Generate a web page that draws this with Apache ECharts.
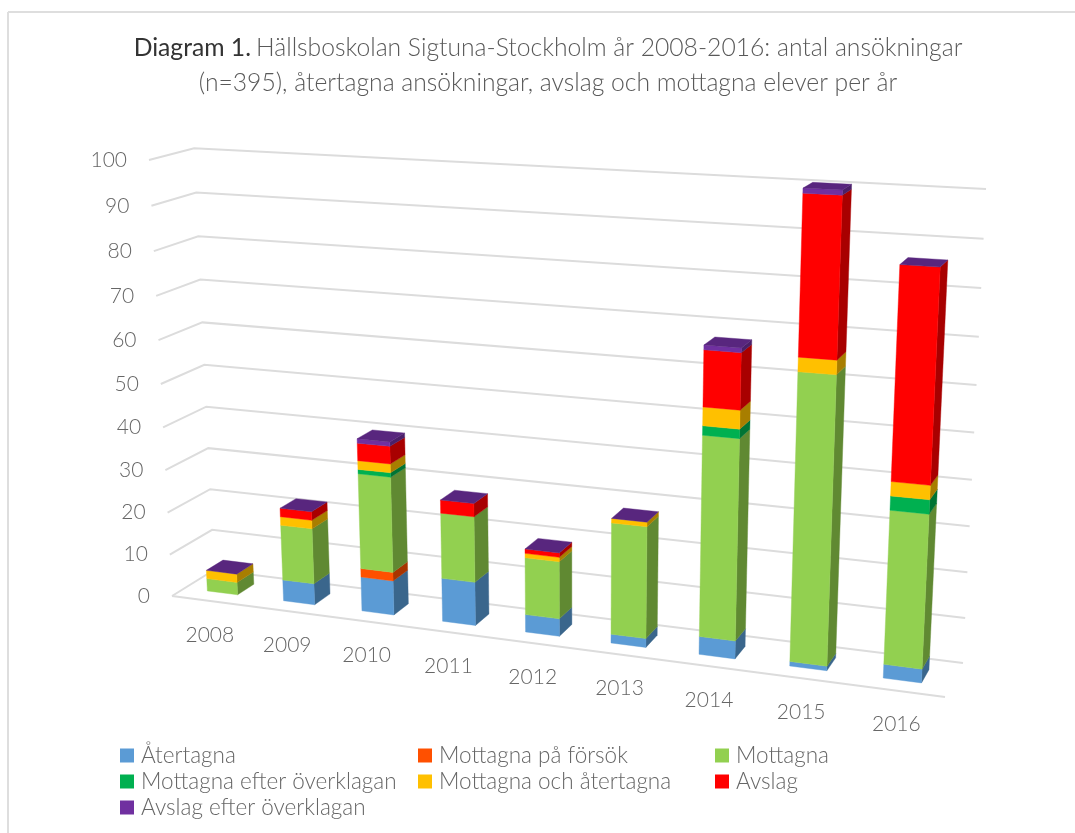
<!DOCTYPE html>
<html><head><meta charset="utf-8">
<style>html,body{margin:0;padding:0;background:#fff}#c{width:1075px;height:833px}</style>
<script src="https://cdn.jsdelivr.net/npm/echarts@6/dist/echarts.min.js"></script>
</head><body><div id="c"></div>
<script>
const years = ['2008','2009','2010','2011','2012','2013','2014','2015','2016'];
const yTicks = [0,10,20,30,40,50,60,70,80,90,100];
const seriesNames = ['Återtagna','Mottagna på försök','Mottagna','Mottagna efter överklagan','Mottagna och återtagna','Avslag','Avslag efter överklagan'];
const aterTagna   = [0,5,8,10,4,2,4,1,3];
const paForsok    = [0,0,2,0,0,0,0,0,0];
const mottagna    = [3,13,22,15,13,25,44,62,33];
const efterOverkl = [0,0,1,0,0,0,2,0,3];
const ochAtertagna= [2,2,2,0,1,1,4,3,3];
const avslag      = [0,2,4,3,1,0,12,33,44];
const avslagOverkl= [0,0,1,0,0,0,1,1,0];
const allValues = [aterTagna,paForsok,mottagna,efterOverkl,ochAtertagna,avslag,avslagOverkl];
const frontColors = ['#5b9bd5','#ff5000','#92d050','#00b050','#ffc000','#ff0000','#7030a0'];
const sideColors  = ['#3a668c','#a83400','#608932','#007434','#a87e00','#a80000','#4a2069'];
const topColor = '#58267e';
const gridColor = '#dcdcdc';
const textColor = '#666666';
const FONT = 'Lato, "Open Sans", sans-serif';

// Perspective box: the library's grid rect is mapped through a 3D projective transform
const O=[172,596], PT=[945,697], PD=[214,570], BR=[963,663], PV=[149,160], BR_TOP=[986,189];
const G = -0.125, H = 0.0354, VP = -0.0536, BAR_FRAC = 0.4, D0 = 0.3, D1 = 0.7;
function proj(t,d,v){
  const w=1+G*t+H*d+VP*v;
  return [0,1].map(k=>(O[k]+t*((1+G)*PT[k]-O[k])+d*((1+H)*PD[k]-O[k])+v*((1+VP)*PV[k]-O[k]))/w);
}
function backRight(v){ // measured end of the back-wall gridlines
  const k=v*(1+VP)/(1+VP*v);
  return [BR[0]+(BR_TOP[0]-BR[0])*k, BR[1]+(BR_TOP[1]-BR[1])*k];
}
const fracs=(cs,pt)=>[(pt[0]-cs.x)/cs.width,(cs.y+cs.height-pt[1])/cs.height];

function renderSegment(idx){
  return function(params,api){
    const cs=params.coordSys;
    const a=api.coord([api.value(0),api.value(1)]), b=api.coord([api.value(0),api.value(2)]);
    const [tc,v0]=fracs(cs,a), v1=fracs(cs,b)[1];
    const hw=api.size([1,0])[0]*BAR_FRAC/2/cs.width;
    const t0=tc-hw,t1=tc+hw, kids=[];
    const poly=(pts,fill)=>kids.push({type:'polygon',shape:{points:pts},style:{fill,stroke:fill,lineWidth:0.4}});
    if(v1>v0){
      poly([proj(t1,D0,v0),proj(t1,D1,v0),proj(t1,D1,v1),proj(t1,D0,v1)],sideColors[idx]);
      poly([proj(t0,D0,v0),proj(t1,D0,v0),proj(t1,D0,v1),proj(t0,D0,v1)],frontColors[idx]);
    }
    if(idx===allValues.length-1){
      poly([proj(t0,D0,v1),proj(t1,D0,v1),proj(t1,D1,v1),proj(t0,D1,v1)],topColor);
    }
    return {type:'group',children:kids};
  };
}
const cum=years.map(()=>0);
const barSeries=seriesNames.map((name,idx)=>{
  const data=years.map((y,i)=>{const s=cum[i];cum[i]+=allValues[idx][i];return [i,s,cum[i]];});
  return {type:'custom',name,coordinateSystem:'cartesian2d',clip:false,silent:true,
    itemStyle:{color:frontColors[idx]},encode:{x:0,y:[1,2]},data,renderItem:renderSegment(idx),z:3};
});
const gridSeries={type:'custom',coordinateSystem:'cartesian2d',clip:false,silent:true,z:1,
  data:yTicks.map(v=>[0,v]),encode:{x:0,y:1},
  renderItem(params,api){
    const cs=params.coordSys, val=api.value(1), v=fracs(cs,api.coord([0,val]))[1];
    const pts=[proj(0,0,v),proj(0,1,v),backRight(v)];
    const kids=[{type:'polyline',shape:{points:pts},style:{fill:'none',stroke:gridColor,lineWidth:2}}];
    if(val===0) kids.push({type:'line',shape:{x1:pts[0][0],y1:pts[0][1],x2:PT[0],y2:PT[1]},style:{stroke:gridColor,lineWidth:2}});
    const p=pts[0];
    kids.push({type:'text',style:{text:String(val),x:p[0]-22,y:p[1],align:'right',verticalAlign:'middle',fill:textColor,font:'300 21px '+FONT}});
    return {type:'group',children:kids};
  }};
const catLabelSeries={type:'custom',coordinateSystem:'cartesian2d',clip:false,silent:true,z:2,
  data:years.map((y,i)=>[i,0]),encode:{x:0,y:1},
  renderItem(params,api){
    const cs=params.coordSys,t=fracs(cs,api.coord([api.value(0),0]))[0],p=proj(t,0,0);
    return {type:'text',style:{text:years[api.value(0)],x:p[0],y:p[1]+34,align:'center',verticalAlign:'middle',fill:textColor,font:'300 21px '+FONT}};
  }};
const legendBase={orient:'vertical',top:744,icon:'rect',itemWidth:14,itemHeight:14,itemGap:3,selectedMode:false,padding:0,
  textStyle:{fontFamily:FONT,fontWeight:300,fontSize:22.5,lineHeight:22,color:textColor,padding:[0,0,0,2]}};
const chart=echarts.init(document.getElementById('c'),null,{renderer:'canvas'});
chart.setOption({
  animation:false,backgroundColor:'#fff',
  title:{left:543,top:26,textAlign:'center',
    text:'{b|Diagram 1.} {n|Hällsboskolan Sigtuna-Stockholm år 2008-2016: antal ansökningar}\n{n|(n=395), återtagna ansökningar, avslag och mottagna elever per år}',
    textStyle:{rich:{b:{fontFamily:FONT,fontSize:24.7,fontWeight:400,color:'#333333',lineHeight:35},n:{fontFamily:FONT,fontSize:24.7,fontWeight:300,color:'#595959',lineHeight:35}}}},
  grid:{left:172,width:773,top:160,height:436},
  xAxis:{type:'category',data:years,show:false,boundaryGap:true},
  yAxis:{type:'value',min:0,max:100,interval:10,show:false},
  legend:[
    {...legendBase,left:120,data:[seriesNames[0],seriesNames[3],seriesNames[6]]},
    {...legendBase,left:418,data:[seriesNames[1],seriesNames[4]]},
    {...legendBase,left:715,data:[seriesNames[2],seriesNames[5]]}
  ],
  graphic:[
    {type:'line',shape:{x1:8,y1:12,x2:1075,y2:12},style:{stroke:'#dedede',lineWidth:2}},
    {type:'line',shape:{x1:8,y1:12,x2:8,y2:833},style:{stroke:'#dedede',lineWidth:2}}
  ],
  series:[gridSeries,catLabelSeries,...barSeries]
});
</script></body></html>
